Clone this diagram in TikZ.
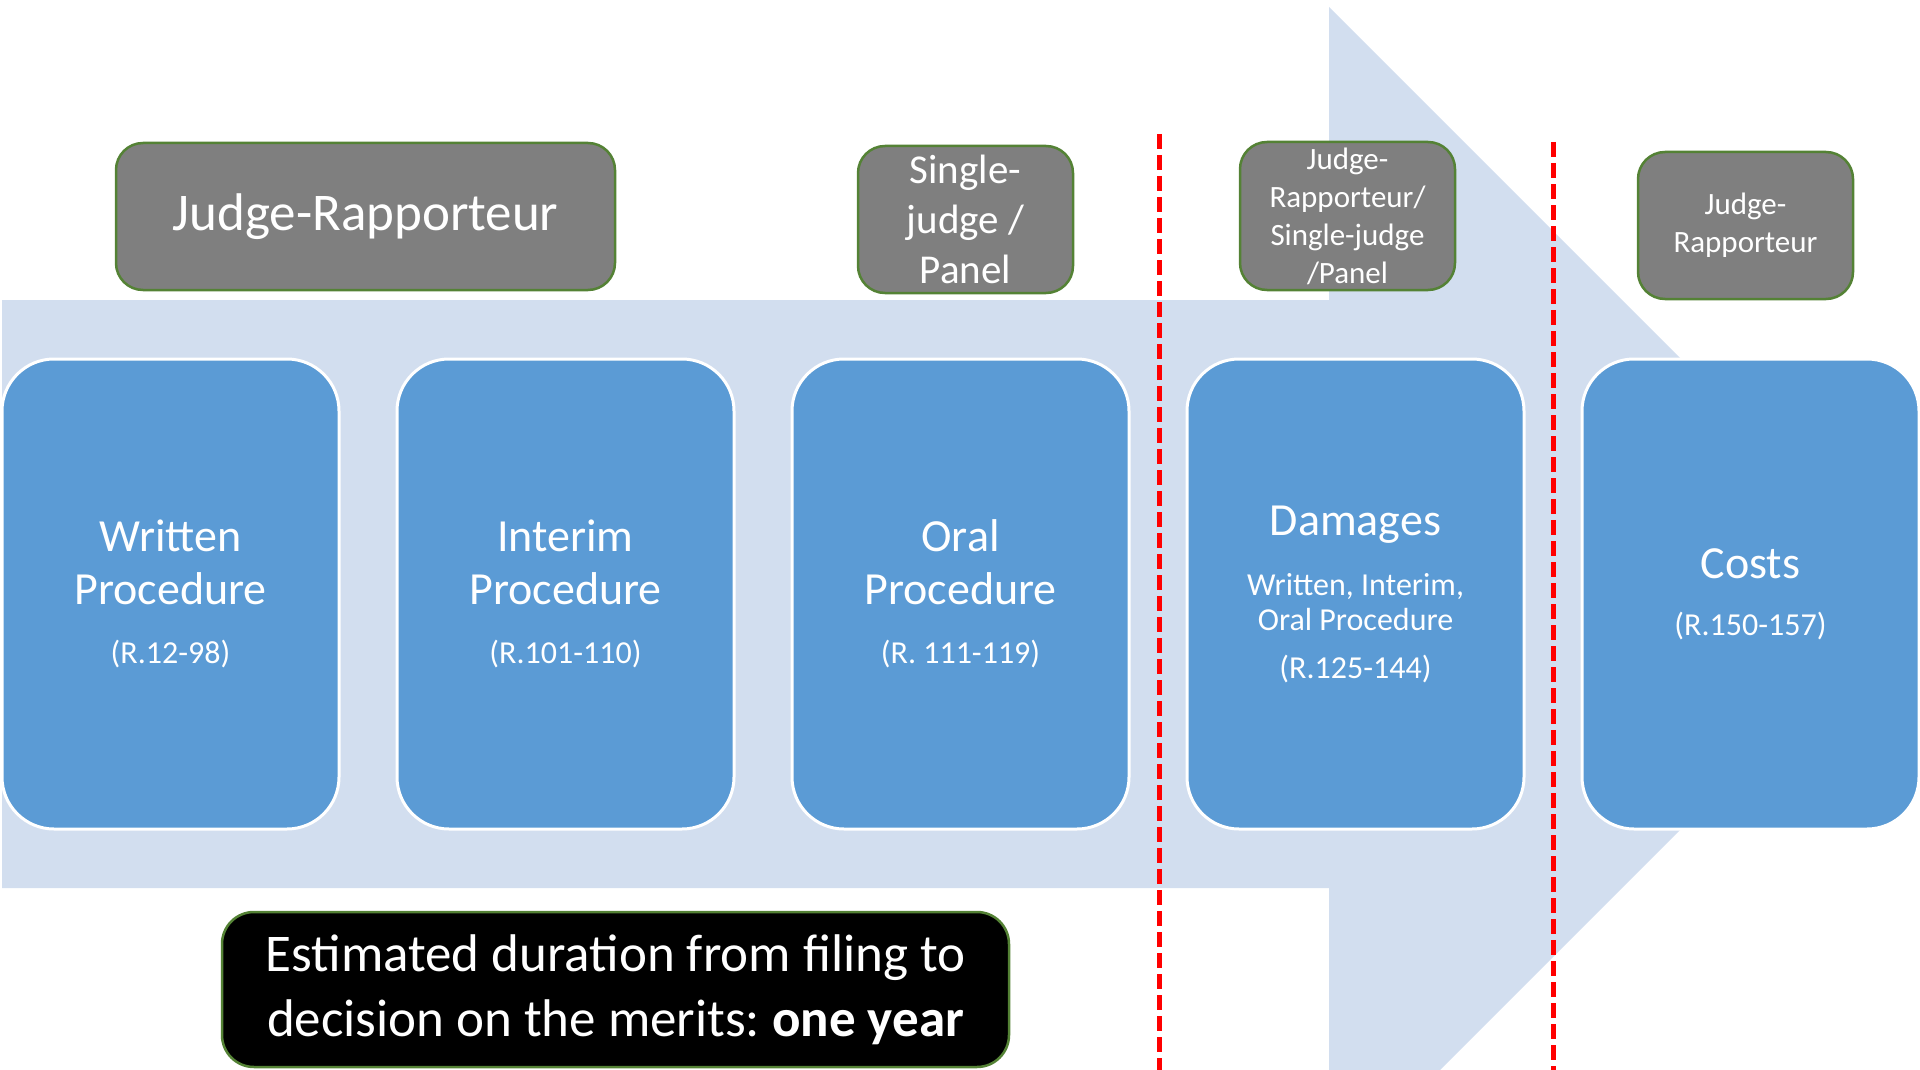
\documentclass[tikz,border=0pt]{standalone}
\usepackage{fontspec}
\setmainfont{Carlito}
\frenchspacing
\usetikzlibrary{positioning}
\definecolor{ArrowBg}{HTML}{D2DEEF}
\definecolor{StageBlue}{HTML}{5B9BD5}
\definecolor{JudgeGray}{HTML}{7F7F7F}
\definecolor{JudgeBorder}{HTML}{548235}
\definecolor{CutRed}{HTML}{FF0000}

\begin{document}
\begin{tikzpicture}[
        x=1pt, y=-1pt,
        node distance=58pt,
        stage/.style={rectangle, rounded corners=52pt, draw=white, line width=3pt, fill=StageBlue, minimum width=337pt, minimum height=470pt, inner sep=0pt, outer sep=0pt, align=center, text=white, font=\fontsize{46}{53}\selectfont},
        judge/.style={rectangle, rounded corners=27pt, draw=JudgeBorder, line width=2.5pt, fill=JudgeGray, inner sep=0pt, align=center, text=white},
        duration/.style={judge, fill=black, rounded corners=32pt},
        cut/.style={draw=CutRed, line width=5pt, dash pattern=on 15pt off 6pt}
      ]
        \path[use as bounding box, clip] (0,0) rectangle (1920,1070);

        % Background arrow
        \fill[ArrowBg] (2,300) -- (1329,300) -- (1329,7) -- (1916,594) -- (1329,1181) -- (1329,888) -- (2,888) -- cycle;

        % Stages
        \node[stage, anchor=north west] (written) at (2,359) {Written\\Procedure\\[6pt]\fontsize{32}{53}\selectfont (R.12-98)};
        \node[stage, right=of written] (interim) {Interim\\Procedure\\[6pt]\fontsize{32}{53}\selectfont (R.101-110)};
        \node[stage, right=of interim] (oral) {Oral\\Procedure\\[6pt]\fontsize{32}{53}\selectfont (R. 111-119)};
        \node[stage, right=of oral] (damages) {Damages\\[7pt]\fontsize{32}{53}\selectfont Written, Interim,\\[-18pt]\fontsize{32}{53}\selectfont Oral Procedure\\[-5pt]\fontsize{32}{53}\selectfont (R.125-144)};
        \node[stage, right=of damages] (costs) {Costs\\[4pt]\fontsize{32}{53}\selectfont (R.150-157)};

        % Judges
        \node[judge, minimum width=499pt, minimum height=147pt, font=\fontsize{53}{60}\selectfont] (jrWritten) at (365.5,216.5) {Judge-Rapporteur};
        \node[judge, minimum width=215pt, minimum height=147pt, font=\fontsize{41}{50}\selectfont] (panelOral) at (965.5,219.5) {Single-\\judge /\\Panel};
        \node[judge, minimum width=215pt, minimum height=148pt, font=\fontsize{31}{38}\selectfont] (panelDamages) at (1347.5,216) {Judge-\\Rapporteur/\\Single-judge\\/Panel};
        \node[judge, minimum width=215pt, minimum height=147pt, font=\fontsize{31}{38}\selectfont] (jrCosts) at (1745.5,225.5) {Judge-\\Rapporteur};

        % Duration
        \node[duration, minimum width=787pt, minimum height=155pt, font=\fontsize{53}{65}\selectfont] (estimate) at (615.5,989.5) {Estimated duration from filing to\\decision on the merits: \textbf{one year}};

        % Separators
        \coordinate (cutA) at (1159,134);
        \coordinate (cutB) at (1553,142);
        \draw[cut] (cutA) -- (cutA |- 0,1070);
        \draw[cut] (cutB) -- (cutB |- 0,1070);
      \end{tikzpicture}
\end{document}
